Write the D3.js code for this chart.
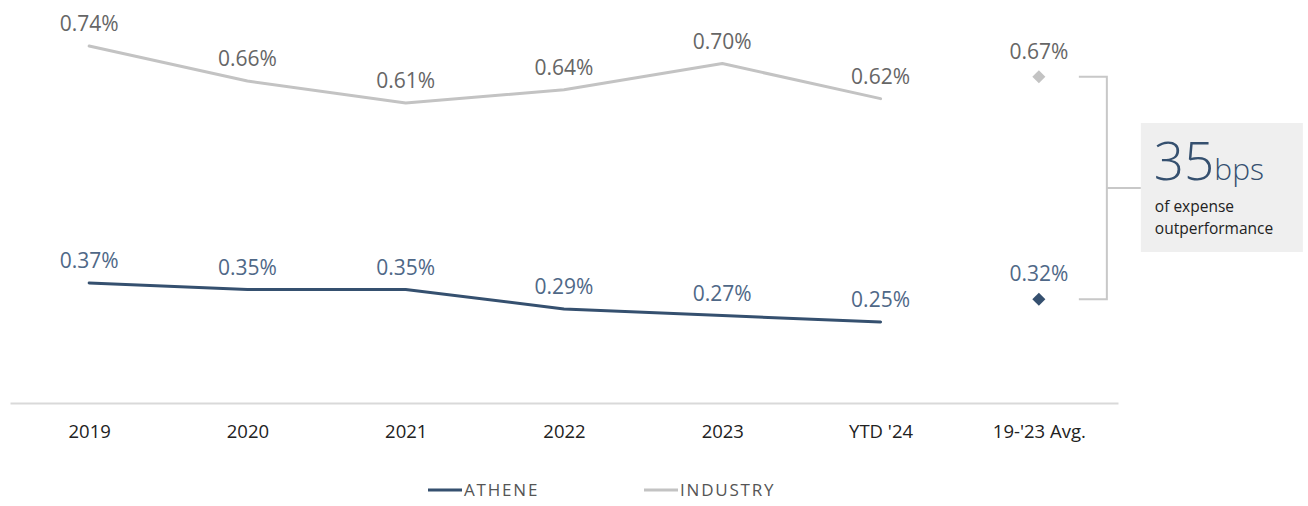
<!DOCTYPE html>
<html>
<head>
<meta charset="utf-8">
<script src="https://cdn.jsdelivr.net/npm/d3@7"></script>
<style>
  body { margin: 0; background: #fff; }
  text { font-family: "Open Sans", "Noto Sans", sans-serif; }
</style>
</head>
<body>
<svg id="chart"></svg>
<script>
// data
const categories = ["2019", "2020", "2021", "2022", "2023", "YTD '24"];
const avgLabel = "19-'23 Avg.";
const athene = [0.37, 0.35, 0.35, 0.29, 0.27, 0.25];
const industry = [0.74, 0.66, 0.61, 0.64, 0.70, 0.62];
const avgAthene = 0.32;
const avgIndustry = 0.67;
const gapBps = 35;

const width = 1308;
const height = 506;
const atheneColor = '#35506f';
const atheneText = '#4f6887';
const industryColor = '#c3c3c3';
const industryText = '#666';

const svg = d3.select('svg#chart').attr('width', width).attr('height', height);

// x: point scale across years plus the average column
const x = d3.scalePoint()
    .domain(categories.concat([avgLabel]))
    .range([10, 1118])
    .padding(0.5);

// y: the chart is drawn with a break between the two series
const y = d3.scaleLinear()
    .domain([0.25, 0.37, 0.61, 0.74])
    .range([322, 283, 103, 46]);

// x axis
const axisY = 403;
const xAxis = svg.append('g')
    .attr('transform', 'translate(0,' + axisY + ')')
    .call(d3.axisBottom(x).tickSize(0).tickSizeOuter(0).tickPadding(22));
xAxis.select('.domain').attr('stroke', '#d9d9d9').attr('stroke-width', 2);
xAxis.selectAll('text')
    .style('font-family', '"Open Sans", sans-serif')
    .attr('font-size', 18.5)
    .attr('fill', '#222');

const line = d3.line()
    .x((d, i) => x(categories[i]))
    .y(d => y(d));

function drawSeries(values, color, textColor) {
    svg.append('path')
        .datum(values)
        .attr('d', line)
        .attr('fill', 'none')
        .attr('stroke', color)
        .attr('stroke-width', 3)
        .attr('stroke-linejoin', 'round')
        .attr('stroke-linecap', 'round');

    svg.append('g').selectAll('text').data(values).enter()
        .append('text')
        .attr('x', (d, i) => x(categories[i]))
        .attr('y', d => y(d) - 15)
        .attr('text-anchor', 'middle')
        .attr('font-size', 21)
        .attr('fill', textColor)
        .text(d => d.toFixed(2) + '%');
}

drawSeries(industry, industryColor, industryText);
drawSeries(athene, atheneColor, atheneText);

// average diamonds
const avgs = [
    { v: avgIndustry, c: industryColor, t: industryText },
    { v: avgAthene, c: atheneColor, t: atheneText }
];
svg.append('g').selectAll('path').data(avgs).enter()
    .append('path')
    .attr('d', d3.symbol(d3.symbolSquare, 85))
    .attr('transform', d => 'translate(' + x(avgLabel) + ',' + y(d.v) + ') rotate(45)')
    .attr('fill', d => d.c);
svg.append('g').selectAll('text').data(avgs).enter()
    .append('text')
    .attr('x', x(avgLabel))
    .attr('y', d => y(d.v) - 18)
    .attr('text-anchor', 'middle')
    .attr('font-size', 21)
    .attr('fill', d => d.t)
    .text(d => d.v.toFixed(2) + '%');

// bracket
const bx0 = x(avgLabel) + 40;
const bx1 = bx0 + 28;
const yTop = y(avgIndustry);
const yBot = y(avgAthene);
const yMid = 188;
svg.append('path')
    .attr('d', 'M' + bx0 + ',' + yTop + 'H' + bx1 + 'V' + yBot + 'H' + bx0 + 'M' + bx1 + ',' + yMid + 'H' + (bx1 + 34))
    .attr('fill', 'none')
    .attr('stroke', '#c8c8c8')
    .attr('stroke-width', 2);

// callout box
const boxX = bx1 + 34;
svg.append('rect')
    .attr('x', boxX).attr('y', 123)
    .attr('width', 162).attr('height', 129)
    .attr('fill', '#efefef');
const big = svg.append('text')
    .attr('x', boxX + 13).attr('y', 180)
    .attr('fill', atheneColor);
big.append('tspan').attr('font-size', 53).attr('font-weight', 300).text(gapBps);
big.append('tspan').attr('font-size', 30).attr('font-weight', 300).text('bps');
svg.append('text')
    .attr('x', boxX + 14).attr('y', 212)
    .attr('font-size', 15.5).attr('fill', '#222')
    .text('of expense');
svg.append('text')
    .attr('x', boxX + 14).attr('y', 234)
    .attr('font-size', 15.5).attr('fill', '#222')
    .text('outperformance');

// legend
const legend = [
    { name: 'ATHENE', c: atheneColor, x: 428 },
    { name: 'INDUSTRY', c: industryColor, x: 644 }
];
const lg = svg.append('g').selectAll('g').data(legend).enter()
    .append('g')
    .attr('transform', d => 'translate(' + d.x + ',490)');
lg.append('line')
    .attr('x1', 0).attr('x2', 34)
    .attr('stroke', d => d.c).attr('stroke-width', 3);
lg.append('text')
    .attr('x', 36).attr('y', 6)
    .attr('font-size', 17)
    .attr('letter-spacing', 1.8)
    .attr('fill', '#555')
    .text(d => d.name);
</script>
</body>
</html>
